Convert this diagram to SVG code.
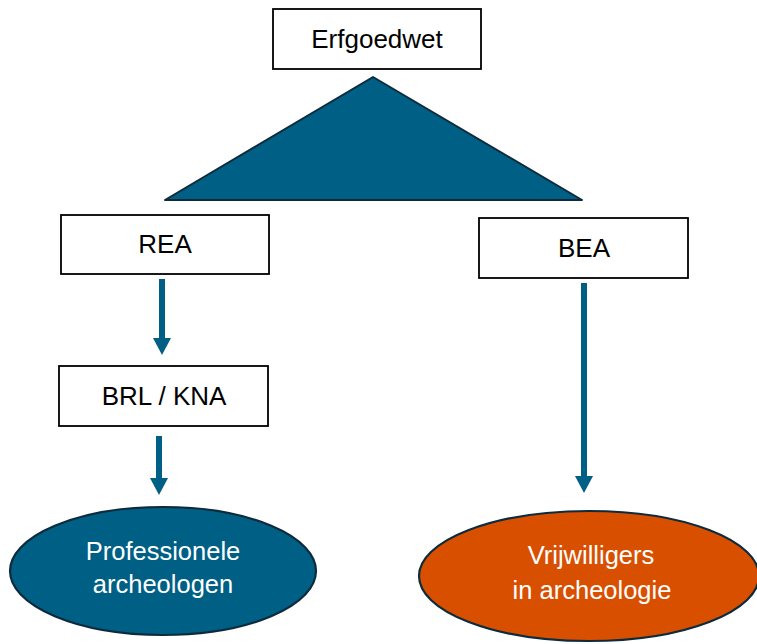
<svg xmlns="http://www.w3.org/2000/svg" width="757" height="644" viewBox="0 0 757 644">
  <style>
    .box { fill: #ffffff; stroke: #000000; stroke-width: 1.8; }
    .lbl { font-family: "Liberation Sans", Arial, sans-serif; font-size: 26px; fill: #000000; text-anchor: middle; }
    .elbl { font-family: "Liberation Sans", Arial, sans-serif; font-size: 25.5px; fill: #ffffff; text-anchor: middle; }
    .conn { stroke: #005f84; stroke-width: 6; fill: none; }
    .ell { stroke: #0d2b3c; stroke-width: 2.2; }
  </style>
  <defs>
    <marker id="ah" markerUnits="userSpaceOnUse" markerWidth="18" markerHeight="18" viewBox="0 0 18 18" refX="0" refY="9" orient="auto">
      <path d="M0,0 L17,9 L0,18 Z" fill="#005f84"/>
    </marker>
  </defs>
  <rect width="757" height="644" fill="#ffffff"/>

  <g id="triangle">
    <polygon points="373,77 582,200 165,200" fill="#005f84" stroke="#0d2b3c" stroke-width="2" stroke-linejoin="round"/>
  </g>

  <g id="connectors">
    <line class="conn" x1="162" y1="279" x2="162" y2="338" marker-end="url(#ah)"/>
    <line class="conn" x1="159" y1="436" x2="159" y2="478" marker-end="url(#ah)"/>
    <line class="conn" x1="584" y1="283" x2="584" y2="476" marker-end="url(#ah)"/>
  </g>

  <g id="erfgoedwet">
    <rect class="box" x="273" y="9" width="208" height="60"/>
    <text class="lbl" x="377" y="48">Erfgoedwet</text>
  </g>

  <g id="rea">
    <rect class="box" x="61" y="215" width="208" height="59"/>
    <text class="lbl" x="165" y="253">REA</text>
  </g>

  <g id="bea">
    <rect class="box" x="479" y="218" width="209" height="60"/>
    <text class="lbl" x="584" y="257">BEA</text>
  </g>

  <g id="brl-kna">
    <rect class="box" x="59" y="366" width="209" height="60"/>
    <text class="lbl" x="164" y="405">BRL / KNA</text>
  </g>

  <g id="professionele">
    <ellipse class="ell" cx="163" cy="571" rx="153" ry="64" fill="#005f84"/>
    <text class="elbl" x="163" y="560">Professionele</text>
    <text class="elbl" x="163" y="593">archeologen</text>
  </g>

  <g id="vrijwilligers">
    <ellipse class="ell" cx="589" cy="576" rx="170" ry="65" fill="#d94f00"/>
    <text class="elbl" x="591" y="564">Vrijwilligers</text>
    <text class="elbl" x="592" y="599">in archeologie</text>
  </g>
</svg>
